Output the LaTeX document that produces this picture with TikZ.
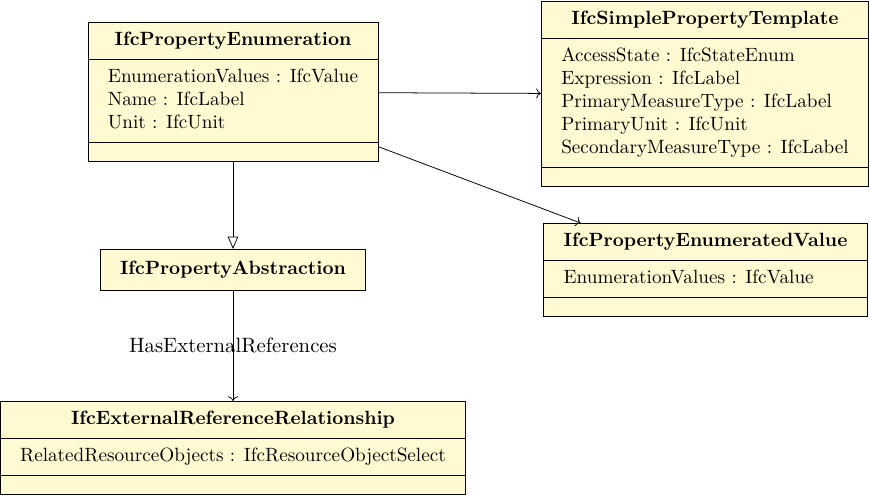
\documentclass[tikz,border=0pt]{standalone}
\usetikzlibrary{shapes.multipart,arrows.meta}
\definecolor{classbg}{RGB}{255,250,210}
\newcommand\partpad{\rule{0pt}{3pt}\kern1pt}
\tikzset{
  umlclass/.style={draw, fill=classbg, anchor=north, rectangle split,
    rectangle split parts=3, rectangle split part align={center,left,left},
    inner xsep=10.4pt, inner ysep=3.4pt},
  umlplain/.style={draw, fill=classbg, anchor=north, font=\bfseries,
    inner xsep=10.4pt, inner ysep=4.65pt}
}
\begin{document}
\begin{tikzpicture}[x=0.52083pt, y=-0.52083pt]
      \useasboundingbox (0,0) rectangle (869,495);
      \draw
        (233,22) node[umlclass] (0)
          {\strut\textbf{IfcPropertyEnumeration}
           \nodepart{two}\begin{tabular}{@{}l@{}}EnumerationValues : IfcValue\\Name : IfcLabel\\Unit : IfcUnit\end{tabular}
           \nodepart{three}\partpad}
        (705,1) node[umlclass] (1)
          {\strut\textbf{IfcSimplePropertyTemplate}
           \nodepart{two}\begin{tabular}{@{}l@{}}AccessState : IfcStateEnum\\Expression : IfcLabel\\PrimaryMeasureType : IfcLabel\\PrimaryUnit : IfcUnit\\SecondaryMeasureType : IfcLabel\end{tabular}
           \nodepart{three}\partpad}
        (705.5,223) node[umlclass] (2)
          {\strut\textbf{IfcPropertyEnumeratedValue}
           \nodepart{two}\begin{tabular}{@{}l@{}}EnumerationValues : IfcValue\end{tabular}
           \nodepart{three}\partpad}
        (233,249) node[umlplain] (3) {\strut IfcPropertyAbstraction}
        (233,401) node[umlclass] (4)
          {\strut\textbf{IfcExternalReferenceRelationship}
           \nodepart{two}\begin{tabular}{@{}l@{}}RelatedResourceObjects : IfcResourceObjectSelect\end{tabular}
           \nodepart{three}\partpad};
      \begin{scope}[->]
        \draw (0) to (1);
        \draw (0) to (2);
        \draw[-{Triangle[open, length=6.5pt, width=5.5pt]}] (0) to (3);
        \draw (3) to node[font=\fontsize{10.8}{13}\selectfont] {HasExternalReferences} (4);
      \end{scope}
    \end{tikzpicture}
\end{document}
